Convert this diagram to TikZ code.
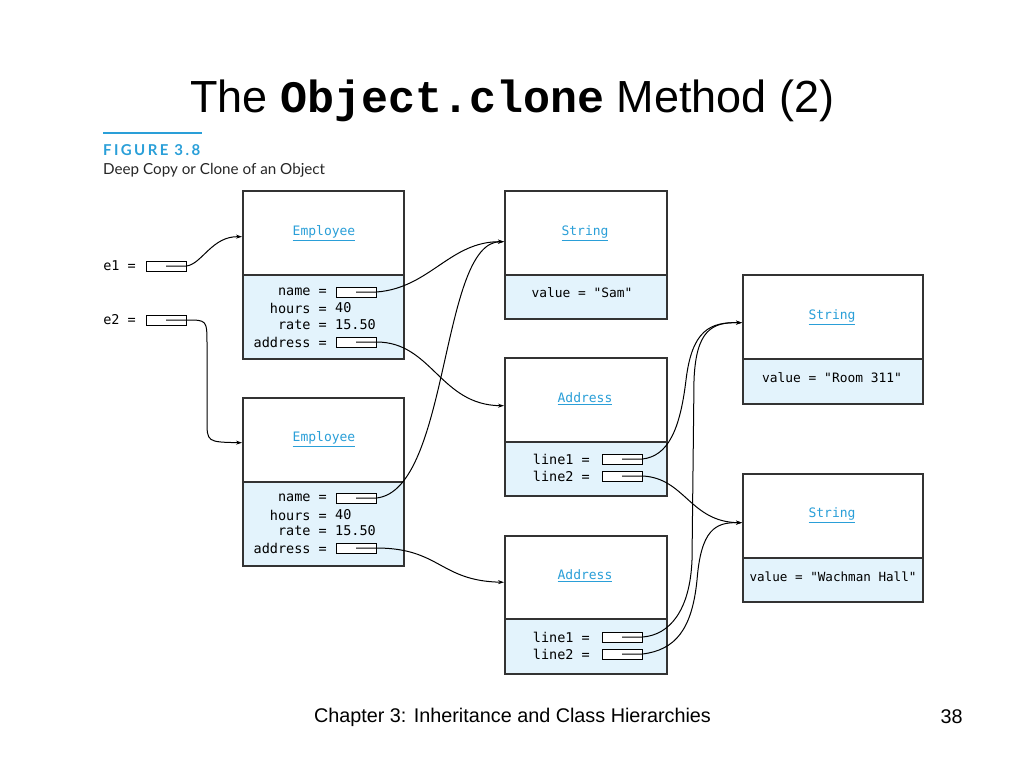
\documentclass[tikz,border=0pt]{standalone}
\usepackage{fontspec}
\setmainfont{Liberation Sans}
\newfontfamily\boxmono{DejaVu Sans Mono}
\newfontfamily\titlemono{Liberation Mono}
\newfontfamily\capfont{Lato}
\newfontfamily\figfont[LetterSpace=16]{Lato}
\usetikzlibrary{arrows.meta}
\definecolor{figblue}{HTML}{2A9FD8}
\definecolor{fieldfill}{HTML}{E3F3FC}
\definecolor{boxline}{HTML}{333333}
\begin{document}
\begin{tikzpicture}[x=1pt,y=-1pt,
  toppart/.style={draw=boxline, line width=1.5pt, fill=white, anchor=north west, inner sep=0pt},
  botpart/.style={draw=boxline, line width=1.5pt, fill=fieldfill, anchor=north west, inner sep=0pt},
  slot/.style={draw=black, line width=1pt, fill=white, minimum width=40pt, minimum height=10pt, inner sep=0pt},
  cls/.style={text=figblue, font=\boxmono\fontsize{13}{15}\selectfont, inner sep=0pt},
  fld/.style={font=\boxmono\fontsize{13.5}{15}\selectfont, inner sep=0pt, text=black},
  sval/.style={font=\boxmono\fontsize{12.9}{15}\selectfont, inner sep=0pt, text=black},
  ptr/.style={draw=black, line width=1pt, -{Stealth[length=6pt,width=4pt]}}]
\useasboundingbox (0,0) rectangle (1024,768);

% title
\node[anchor=base west, inner sep=0pt, font=\fontsize{45}{50}\selectfont] (title) at (190,112)
  {The {\titlemono\bfseries Object.clone} Method (2)};
% figure caption
\draw[figblue, line width=1.6pt] (103,133) -- (202,133);
\node[anchor=base west, inner sep=0pt, text=figblue, font=\figfont\bfseries\fontsize{15}{17}\selectfont] (fignum) at (103,155) {FIGURE 3.8};
\node[anchor=base west, inner sep=0pt, font=\capfont\fontsize{15.2}{17}\selectfont, text=black!85] (figcap) at (103,174) {Deep Copy or Clone of an Object};

% footer
\node[anchor=base, inner sep=0pt, font=\fontsize{19.8}{22}\selectfont] (footer) at (512.5,722) {Chapter 3: Inheritance and Class Hierarchies};
\node[anchor=base, inner sep=0pt, font=\fontsize{19.8}{22}\selectfont] (pageno) at (951.5,723) {38};

% Employee 1
\node[toppart, minimum width=161pt, minimum height=84pt] (emp1) at (242,190) {};
\node[botpart, minimum width=161pt, minimum height=84pt] (emp1b) at (242,274) {};
\node[cls] (emp1c) at (324,233) {\underline{Employee}};
\node[fld, anchor=east] (emp1l1) at (327,292) {name =};
\node[fld, anchor=east] (emp1l2) at (327,308) {hours =};
\node[fld, anchor=west] (emp1v2) at (335,308) {40};
\node[fld, anchor=east] (emp1l3) at (327,325) {rate =};
\node[fld, anchor=west] (emp1v3) at (335,325) {15.50};
\node[fld, anchor=east] (emp1l4) at (327,342) {address =};
\node[slot] (emp1name) at (356,292) {};
\node[slot] (emp1addr) at (356,342) {};

% Employee 2
\node[toppart, minimum width=161pt, minimum height=84pt] (emp2) at (242,397) {};
\node[botpart, minimum width=161pt, minimum height=84pt] (emp2b) at (242,481) {};
\node[cls] (emp2c) at (324,439) {\underline{Employee}};
\node[fld, anchor=east] (emp2l1) at (327,498) {name =};
\node[fld, anchor=east] (emp2l2) at (327,515) {hours =};
\node[fld, anchor=west] (emp2v2) at (335,515) {40};
\node[fld, anchor=east] (emp2l3) at (327,531) {rate =};
\node[fld, anchor=west] (emp2v3) at (335,531) {15.50};
\node[fld, anchor=east] (emp2l4) at (327,548) {address =};
\node[slot] (emp2name) at (356,498) {};
\node[slot] (emp2addr) at (356,548) {};

% e1, e2
\node[fld, anchor=east] (e1l) at (136,266) {e1 =};
\node[slot] (e1) at (166,266) {};
\node[fld, anchor=east] (e2l) at (136,320) {e2 =};
\node[slot] (e2) at (166,320) {};

% String "Sam"
\node[toppart, minimum width=162pt, minimum height=84pt] (str1) at (504,190) {};
\node[botpart, minimum width=162pt, minimum height=44pt] (str1b) at (504,274) {};
\node[cls] (str1c) at (585,233) {\underline{String}};
\node[sval] (str1v) at (582,293) {value = "Sam"};

% Address 1
\node[toppart, minimum width=162pt, minimum height=84pt] (adr1) at (504,357) {};
\node[botpart, minimum width=162pt, minimum height=54pt] (adr1b) at (504,441) {};
\node[cls] (adr1c) at (585,399) {\underline{Address}};
\node[fld, anchor=east] (adr1l1) at (590,459) {line1 =};
\node[fld, anchor=east] (adr1l2) at (590,476) {line2 =};
\node[slot] (adr1a) at (622,459) {};
\node[slot] (adr1b2) at (622,476) {};

% Address 2
\node[toppart, minimum width=162pt, minimum height=83pt] (adr2) at (504,535) {};
\node[botpart, minimum width=162pt, minimum height=55pt] (adr2b) at (504,618) {};
\node[cls] (adr2c) at (585,576) {\underline{Address}};
\node[fld, anchor=east] (adr2l1) at (590,637) {line1 =};
\node[fld, anchor=east] (adr2l2) at (590,654) {line2 =};
\node[slot] (adr2a) at (622,637) {};
\node[slot] (adr2b2) at (622,654) {};

% String "Room 311"
\node[toppart, minimum width=180pt, minimum height=84pt] (str2) at (742,274) {};
\node[botpart, minimum width=180pt, minimum height=45pt] (str2b) at (742,358) {};
\node[cls] (str2c) at (832,317) {\underline{String}};
\node[sval] (str2v) at (832,378) {value = "Room 311"};

% String "Wachman Hall"
\node[toppart, minimum width=180pt, minimum height=84pt] (str3) at (742,473) {};
\node[botpart, minimum width=180pt, minimum height=44pt] (str3b) at (742,557) {};
\node[cls] (str3c) at (832,515) {\underline{String}};
\node[sval, font=\boxmono\fontsize{12.6}{15}\selectfont] (str3v) at (833,577) {value = "Wachman Hall"};

% connectors
\draw[ptr] (e1.center) -- (e1.east) .. controls (202,264) and (212,236) .. ([yshift=-4pt]emp1.west);
\draw[ptr] (e2.center) -- (e2.east) .. controls (207,320) .. (207,345) -- (207,420) .. controls (207,442) .. ([yshift=-3pt]emp2.west);
\draw[ptr] (emp1name.center) -- (emp1name.east) .. controls (430,288) and (450,241) .. ([yshift=-9pt]str1.west);
\draw[ptr] (emp2name.center) -- (emp2name.east) .. controls (450,490) and (440,241) .. ([yshift=-9pt]str1.west);
\draw[ptr] (emp1addr.center) -- (emp1addr.east) .. controls (432,342) and (440,405) .. ([yshift=-6pt]adr1.west);
\draw[ptr] (emp2addr.center) -- (emp2addr.east) .. controls (440,548) and (440,581) .. ([yshift=-5pt]adr2.west);
\draw[ptr] (adr1a.center) -- (adr1a.east) .. controls (668,456) and (680,430) .. (686,380) .. controls (692,330) and (710,322) .. ([yshift=-6pt]str2.west);
\draw[ptr] (adr1b2.center) -- (adr1b2.east) .. controls (685,478) and (690,522) .. ([yshift=-7pt]str3.west);
\draw[ptr] (adr2a.center) -- (adr2a.east) .. controls (670,635) and (690,610) .. (692,560) -- (694,380) .. controls (696,330) and (712,322) .. ([yshift=-6pt]str2.west);
\draw[ptr] (adr2b2.center) -- (adr2b2.east) .. controls (675,650) and (692,630) .. (697,580) .. controls (701,530) and (715,522) .. ([yshift=-7pt]str3.west);
\end{tikzpicture}
\end{document}
